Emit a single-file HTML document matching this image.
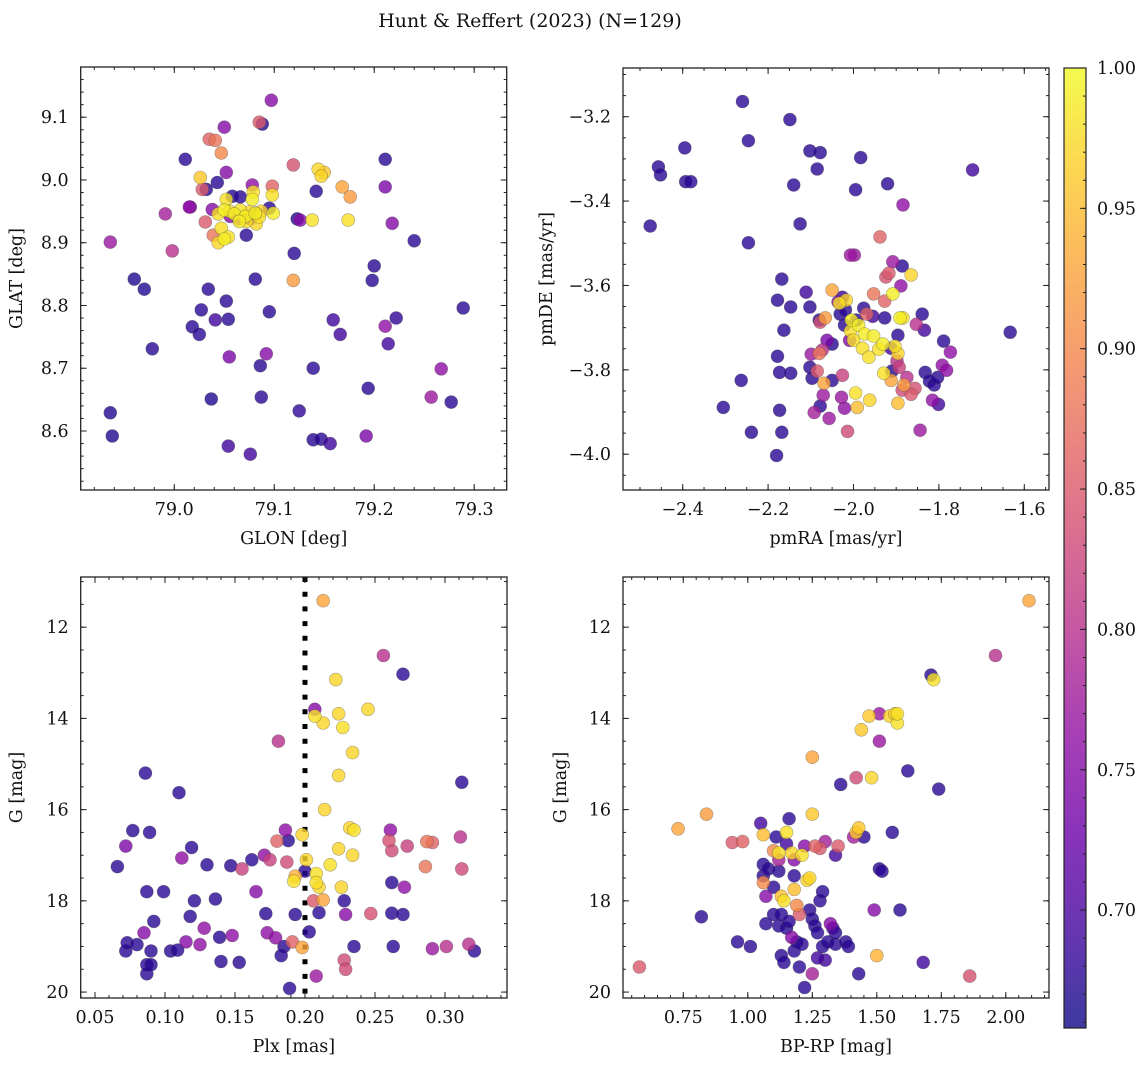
<!DOCTYPE html>
<html><head><meta charset="utf-8">
<style>
html,body{margin:0;padding:0;background:#fff;}
svg{display:block;font-family:"DejaVu Serif","Liberation Serif",serif;}
</style></head>
<body>
<svg id="fig" width="1148" height="1067" viewBox="0 0 1148 1067" xmlns="http://www.w3.org/2000/svg">
<rect width="1148" height="1067" fill="#fff"/>
<text x="530" y="27" font-size="19" text-anchor="middle" fill="#111">Hunt &amp; Reffert (2023) (N=129)</text>
<g id="layer"></g>
</svg>
<script>
// ---------- data ----------
const tlGlon=[78.936,78.938,78.960,78.970,78.978,79.011,79.018,79.025,79.027,79.034,79.037,79.041,79.052,79.054,79.055,79.054,79.081,79.095,79.092,79.086,79.087,79.076,79.097,79.088,79.085,79.120,79.125,79.139,79.139,79.147,79.156,79.159,79.166,79.142,79.192,79.194,79.198,79.200,79.211,79.211,79.211,79.214,79.218,79.222,79.240,79.257,79.267,79.277,79.289,
78.936,78.991,78.998,79.015,79.026,79.028,79.035,79.041,79.047,79.050,79.052,79.043,79.038,79.016,79.031,79.032,
79.052,79.050,79.055,79.060,79.066,79.071,79.075,79.081,79.085,79.087,79.078,79.079,79.098,79.099,79.047,79.050,79.054,79.065,79.072,79.082,79.044,79.044,79.039,
79.064,79.056,79.058,79.066,79.078,79.098,79.095,79.072,79.082,79.076,
79.119,79.119,79.126,79.123,79.138,79.144,79.150,79.147,79.168,79.176,79.174];
const tlGlat=[8.629,8.592,8.842,8.826,8.731,9.033,8.766,8.754,8.793,8.826,8.651,8.777,8.807,8.778,8.718,8.576,8.842,8.79,8.723,8.704,8.654,8.563,9.127,9.089,9.092,8.883,8.632,8.70,8.586,8.587,8.58,8.777,8.754,8.982,8.592,8.668,8.840,8.863,9.033,8.989,8.767,8.739,8.931,8.780,8.903,8.654,8.699,8.646,8.796,
8.901,8.946,8.887,8.957,9.004,8.985,9.065,9.063,9.043,9.084,9.012,8.996,8.953,8.957,8.933,8.985,
8.969,8.952,8.950,8.946,8.952,8.942,8.949,8.947,8.941,8.950,8.969,8.981,8.976,8.947,8.923,8.906,8.909,8.934,8.934,8.930,8.946,8.900,8.912,
8.938,8.942,8.974,8.973,8.992,8.990,8.955,8.912,8.947,8.938,
9.024,8.840,8.936,8.938,8.936,9.017,9.012,9.006,8.989,8.973,8.936];
const tlProb=[.67,.67,.67,.67,.675,.675,.675,.675,.675,.675,.67,.69,.675,.675,.74,.69,.675,.675,.75,.675,.675,.69,.75,.675,.85,.675,.68,.675,.675,.675,.69,.69,.69,.675,.74,.675,.675,.675,.675,.74,.76,.69,.75,.68,.675,.77,.76,.675,.675,
.77,.78,.8,.76,.96,.85,.86,.88,.9,.75,.75,.675,.75,.74,.85,.675,
.98,.99,.98,.99,.98,.99,.97,.99,.98,.97,.99,.98,.98,.99,.98,.99,.98,.99,.98,.97,.98,.97,.88,
.76,.75,.675,.675,.76,.86,.675,.675,.675,.75,
.84,.92,.75,.675,.98,.97,.96,.97,.93,.92,.98];

const trPmra=[-2.476,-2.457,-2.452,-2.395,-2.393,-2.381,-2.260,-2.246,-2.246,-2.263,-2.149,-2.140,-2.125,-2.102,-2.085,-2.078,-1.995,-1.983,-1.920,-1.721,-1.633,-1.886,-1.908,-1.998,-2.007,-1.938,-1.917,-1.889,-1.884,-1.865,-2.168,-2.178,-2.147,-2.163,-2.178,-2.173,-2.147,-2.173,-2.168,-2.180,-2.305,-2.239,
-2.111,-2.102,-2.080,-2.062,-2.050,-2.036,-2.031,-2.026,-2.021,-2.019,-2.009,-1.993,-1.976,-1.955,-1.927,-1.912,-1.896,-1.839,-1.834,-1.832,-1.822,-1.811,-1.792,-1.782,-1.801,-1.789,-1.773,-1.803,-2.092,-2.099,-2.102,-2.097,-2.050,-2.057,-2.021,-2.078,-2.071,-2.028,-1.910,-1.844,-1.815,
-2.078,-2.073,-2.085,-2.026,-2.014,-1.953,-1.927,-1.924,-1.898,-1.886,-1.893,-1.865,-1.856,-1.875,-1.853,-1.969,
-2.050,-2.066,-2.080,-2.069,-1.995,-1.991,-2.033,-2.017,-2.007,-2.005,-2.000,-1.988,-1.979,-1.974,-1.964,-1.953,-1.941,-1.931,-1.929,-1.903,-1.891,-1.884,-1.908,-1.896,-1.912,-1.896,-1.882,-1.962];
const trPmde=[-3.459,-3.319,-3.338,-3.274,-3.354,-3.354,-3.164,-3.257,-3.499,-3.825,-3.207,-3.362,-3.454,-3.281,-3.324,-3.285,-3.373,-3.297,-3.359,-3.326,-3.711,-3.554,-3.544,-3.528,-3.528,-3.485,-3.571,-3.601,-3.409,-3.575,-3.585,-3.635,-3.651,-3.706,-3.768,-3.806,-3.808,-3.896,-3.948,-4.003,-3.889,-3.948,
-3.616,-3.651,-3.682,-3.730,-3.739,-3.639,-3.668,-3.628,-3.694,-3.658,-3.730,-3.682,-3.654,-3.673,-3.677,-3.749,-3.718,-3.668,-3.706,-3.806,-3.827,-3.836,-3.789,-3.801,-3.882,-3.732,-3.758,-3.818,-3.901,-3.763,-3.794,-3.820,-3.825,-3.915,-3.891,-3.886,-3.860,-3.865,-3.803,-3.943,-3.872,
-3.687,-3.753,-3.803,-3.813,-3.946,-3.620,-3.637,-3.580,-3.779,-3.848,-3.794,-3.858,-3.844,-3.818,-3.692,-3.668,
-3.611,-3.677,-3.761,-3.832,-3.855,-3.889,-3.642,-3.635,-3.708,-3.682,-3.730,-3.694,-3.749,-3.715,-3.770,-3.720,-3.751,-3.739,-3.808,-3.744,-3.677,-3.677,-3.620,-3.761,-3.825,-3.879,-3.836,-3.872];
const trProb=[.675,.675,.675,.675,.675,.675,.675,.675,.675,.675,.675,.675,.675,.675,.675,.675,.675,.675,.675,.69,.675,.675,.77,.77,.77,.86,.85,.76,.76,.97,.675,.675,.675,.675,.675,.675,.675,.675,.675,.675,.675,.675,
.69,.675,.675,.74,.675,.75,.675,.69,.675,.675,.75,.675,.675,.69,.675,.69,.675,.675,.69,.675,.675,.675,.76,.76,.69,.675,.76,.675,.78,.77,.675,.675,.675,.77,.76,.675,.77,.77,.675,.77,.76,
.84,.8,.85,.82,.83,.88,.86,.84,.8,.83,.82,.85,.84,.8,.8,.86,
.93,.92,.88,.93,.98,.95,.98,.97,.98,.99,.98,.99,.98,.99,.98,.99,.98,.99,.98,.98,.99,.98,.99,.97,.93,.95,.92,.97];

const blPlx=[0.086,0.110,0.089,0.077,0.072,0.066,0.087,0.099,0.072,0.073,0.080,0.085,0.090,0.087,0.087,0.090,0.092,0.104,0.109,0.115,0.118,0.121,0.112,0.119,0.125,0.130,0.128,0.136,0.139,0.140,0.148,0.153,0.147,0.155,0.162,0.165,0.172,0.173,0.175,0.171,0.179,0.181,0.180,0.186,0.185,0.183,0.189,0.191,0.193,0.187,0.188,0.192,0.193,0.198,0.201,0.198,0.200,
0.213,0.207,0.213,0.207,0.208,0.208,0.210,0.213,0.214,0.206,0.210,0.203,0.208,0.218,0.224,0.222,0.224,0.227,0.224,0.234,0.232,0.235,0.234,0.245,0.226,0.228,0.229,0.228,0.229,0.235,0.247,0.256,0.261,0.260,0.262,0.262,0.262,0.263,0.270,0.273,0.271,0.270,0.286,0.287,0.291,0.291,0.301,0.311,0.312,0.312,0.317,0.321];
const blG=[15.2,15.63,16.5,16.46,16.8,17.25,17.8,17.8,19.1,18.92,18.96,18.7,19.1,19.4,19.6,19.4,18.45,19.1,19.08,18.9,18.34,18.0,17.06,16.83,18.96,17.21,18.6,17.96,18.8,19.33,18.76,19.35,17.23,17.3,17.1,17.8,18.28,18.7,17.1,17.0,18.81,14.5,16.69,16.45,19.0,19.2,19.92,18.9,18.3,17.15,16.68,17.57,17.46,16.55,17.1,19.02,17.35,
11.42,13.95,14.1,13.8,17.4,17.6,17.7,17.98,16.0,18.0,18.26,18.68,19.65,17.21,16.86,13.15,13.9,14.2,15.25,14.75,16.4,16.45,17.0,13.8,17.7,18.0,18.3,19.3,19.5,19.0,18.28,12.62,16.45,16.68,16.9,17.6,18.27,19.0,13.03,16.8,17.7,18.3,17.25,16.7,16.72,19.05,19.0,16.6,17.3,15.4,18.95,19.1];
const blProb=[.675,.675,.675,.675,.74,.675,.675,.675,.675,.675,.675,.75,.675,.675,.675,.675,.675,.675,.675,.75,.675,.675,.76,.675,.76,.675,.76,.675,.675,.675,.76,.675,.675,.82,.675,.75,.675,.76,.82,.76,.76,.8,.86,.76,.675,.675,.675,.86,.675,.83,.675,.98,.94,.97,.97,.93,.675,
.93,.98,.97,.75,.98,.98,.97,.93,.97,.85,.675,.675,.77,.98,.97,.97,.97,.98,.97,.97,.97,.98,.97,.97,.97,.675,.75,.83,.83,.675,.84,.8,.76,.84,.83,.675,.675,.675,.675,.82,.76,.675,.88,.88,.86,.77,.8,.8,.83,.675,.8,.675];

const brColor=[0.58,0.73,0.84,0.82,0.96,1.01,0.94,0.98,1.05,1.06,1.06,1.06,1.06,1.07,1.08,1.07,1.10,1.10,1.11,1.12,1.13,1.12,1.12,1.14,1.15,1.15,1.16,1.17,1.18,1.18,1.18,1.19,1.20,1.21,1.22,1.23,1.24,1.25,1.26,1.25,
1.12,1.13,1.14,1.15,1.17,1.18,1.19,1.20,1.21,1.22,1.24,1.25,1.26,1.27,1.28,1.29,1.29,1.30,1.31,1.32,1.33,1.34,1.25,1.27,1.34,1.35,1.34,1.28,1.30,1.36,
1.38,1.39,1.41,1.42,1.43,1.42,1.43,1.44,1.45,1.47,1.48,1.49,1.50,1.51,1.51,1.51,1.52,1.55,1.56,1.57,1.58,1.58,1.59,1.62,1.68,1.71,1.72,1.74,1.86,1.96,2.09,1.10,1.13,1.16];
const brG=[19.45,16.42,16.1,18.35,18.9,19.0,16.72,16.7,16.3,16.55,17.2,17.45,17.6,17.9,17.3,18.5,17.7,16.9,16.6,16.95,17.9,17.35,17.1,18.0,16.75,16.5,16.2,16.95,17.1,17.45,17.75,18.1,18.3,17.0,16.8,17.55,17.5,16.1,16.8,14.85,
18.55,19.2,19.35,18.6,18.8,19.1,18.9,19.45,18.95,19.9,18.2,18.4,18.55,18.7,18.0,17.8,19.0,19.3,18.9,18.5,18.6,18.95,19.6,19.25,18.7,16.8,17.0,16.85,16.7,15.45,
18.9,19.0,16.6,16.5,16.4,15.3,19.6,14.25,16.6,13.95,15.3,18.2,19.2,13.9,14.5,17.3,17.35,13.95,16.5,13.9,14.1,13.9,18.2,15.15,19.35,13.05,13.15,15.55,19.65,12.62,11.42,18.3,18.3,18.45];
const brProb=[.85,.93,.92,.675,.675,.675,.85,.86,.69,.95,.675,.675,.9,.75,.675,.675,.675,.9,.675,.98,.95,.675,.78,.98,.69,.98,.675,.97,.75,.675,.95,.9,.85,.98,.75,.97,.97,.96,.86,.93,
.675,.675,.675,.675,.75,.675,.675,.675,.675,.675,.675,.675,.675,.675,.675,.675,.675,.69,.675,.75,.69,.675,.78,.69,.675,.85,.69,.85,.78,.675,
.675,.675,.78,.96,.96,.83,.675,.96,.675,.96,.97,.75,.94,.77,.77,.675,.675,.97,.675,.97,.98,.98,.675,.675,.69,.675,.98,.675,.84,.8,.93,.675,.675,.675];

const cbTicks=[0.70,0.75,0.80,0.85,0.90,0.95,1.00];
const VMIN=0.658, VMAX=1.0;

// ---------- helpers ----------
const NS="http://www.w3.org/2000/svg";
const layer=document.getElementById('layer');
function mk(tag,attrs,parent){const e=document.createElementNS(NS,tag);for(const k in attrs)e.setAttribute(k,attrs[k]);(parent||layer).appendChild(e);return e;}
const PL=[[13,8,135],[65,4,157],[106,0,168],[143,13,164],[177,42,144],[204,71,120],[225,100,98],[242,132,75],[252,166,54],[252,206,37],[240,249,33]];
function plasma(t){t=Math.max(0,Math.min(1,t))*10;const i=Math.min(9,Math.floor(t)),f=t-i;const a=PL[i],b=PL[i+1];
return 'rgb('+[0,1,2].map(k=>Math.round(a[k]+(b[k]-a[k])*f)).join(',')+')';}
function cnorm(p){return (p-VMIN)/(VMAX-VMIN);}

function panel(o){
  const g=mk('g',{});
  
  
  const sx=v=>o.x0+(v-o.xr[0])/(o.xr[1]-o.xr[0])*(o.x1-o.x0);
  const sy=v=>o.inv? o.y0+(v-o.yr[0])/(o.yr[1]-o.yr[0])*(o.y1-o.y0) : o.y1-(v-o.yr[0])/(o.yr[1]-o.yr[0])*(o.y1-o.y0);
  if(o.vline!==undefined){
    const l=mk('line',{x1:sx(o.vline),x2:sx(o.vline),y1:o.y0,y2:o.y1,stroke:'#000','stroke-width':5,'stroke-dasharray':'5,9.7'},g);
    
    
  }
  const idx=o.xs.map((_,i)=>i).sort((a,b)=>o.ps[a]-o.ps[b]);
  const pg=mk('g',{},g);
  
  
  idx.forEach(i=>{
    const c=mk('circle',{cx:sx(o.xs[i]).toFixed(1),cy:sy(o.ys[i]).toFixed(1),r:6.5,fill:plasma(cnorm(o.ps[i])),'fill-opacity':0.8,stroke:'#444','stroke-opacity':0.45,'stroke-width':0.6},pg);
    
    
  });
  const fr=mk('rect',{x:o.x0,y:o.y0,width:o.x1-o.x0,height:o.y1-o.y0,fill:'none',stroke:'#222','stroke-width':1.3},g);
  
  
  const eps=1e-9;
  function ticksX(step,len,labels){
    const s=Math.ceil((o.xr[0]-eps)/step);
    for(let k=s;k*step<=o.xr[1]+eps;k++){const v=k*step,x=sx(v);
      mk('line',{x1:x,x2:x,y1:o.y1,y2:o.y1-len,stroke:'#222','stroke-width':1},g);
      mk('line',{x1:x,x2:x,y1:o.y0,y2:o.y0+len,stroke:'#222','stroke-width':1},g);
      if(labels){const t=mk('text',{x:x,y:o.y1+25,'font-size':17.5,'text-anchor':'middle',fill:'#111'},g);t.textContent=o.xfmt(v);
        
        }
    }}
  function ticksY(step,len,labels){
    const lo=Math.min(o.yr[0],o.yr[1]),hi=Math.max(o.yr[0],o.yr[1]);
    const s=Math.ceil((lo-eps)/step);
    for(let k=s;k*step<=hi+eps;k++){const v=k*step,y=sy(v);
      mk('line',{x1:o.x0,x2:o.x0+len,y1:y,y2:y,stroke:'#222','stroke-width':1},g);
      mk('line',{x1:o.x1,x2:o.x1-len,y1:y,y2:y,stroke:'#222','stroke-width':1},g);
      if(labels){const t=mk('text',{x:o.x0-12,y:y+6,'font-size':17.5,'text-anchor':'end',fill:'#111'},g);t.textContent=o.yfmt(v);
        
        }
    }}
  ticksX(o.xMin,3,false);ticksX(o.xMaj,6,true);
  ticksY(o.yMin,3,false);ticksY(o.yMaj,6,true);
  const xl=mk('text',{x:(o.x0+o.x1)/2,y:o.y1+54,'font-size':17.5,'text-anchor':'middle',fill:'#111'},g);xl.textContent=o.xlabel;
  
  
  const cy=(o.y0+o.y1)/2;
  const yl=mk('text',{x:o.ylx,y:cy,'font-size':17.5,'text-anchor':'middle',fill:'#111',transform:'rotate(-90 '+o.ylx+' '+cy+')'},g);yl.textContent=o.ylabel;
  
  
}
const neg=s=>s.replace('-','\u2212');

panel({name:'glon-glat-panel',x0:80.7,x1:506.7,y0:67,y1:490,xr:[78.9064,79.3325],yr:[8.506,9.180],
  xs:tlGlon,ys:tlGlat,ps:tlProb,xMaj:0.1,xMin:0.02,yMaj:0.1,yMin:0.02,
  xfmt:v=>v.toFixed(1),yfmt:v=>v.toFixed(1),xlabel:'GLON [deg]',ylabel:'GLAT [deg]',ylx:22});
panel({name:'proper-motion-panel',x0:623,x1:1049,y0:68,y1:490,xr:[-2.5398,-1.5421],yr:[-4.0848,-3.0846],
  xs:trPmra,ys:trPmde,ps:trProb,xMaj:0.2,xMin:0.05,yMaj:0.2,yMin:0.05,
  xfmt:v=>neg(v.toFixed(1)),yfmt:v=>neg(v.toFixed(1)),xlabel:'pmRA [mas/yr]',ylabel:'pmDE [mas/yr]',ylx:552});
panel({name:'parallax-magnitude-panel',x0:80.7,x1:507,y0:577,y1:998,xr:[0.0398,0.3443],yr:[10.90,20.13],inv:true,
  xs:blPlx,ys:blG,ps:blProb,xMaj:0.05,xMin:0.01,yMaj:2,yMin:0.5,vline:0.2,
  xfmt:v=>v.toFixed(2),yfmt:v=>v.toFixed(0),xlabel:'Plx [mas]',ylabel:'G [mag]',ylx:22});
panel({name:'color-magnitude-panel',x0:623,x1:1049,y0:577,y1:998,xr:[0.5163,2.1674],yr:[10.90,20.13],inv:true,
  xs:brColor,ys:brG,ps:brProb,xMaj:0.25,xMin:0.05,yMaj:2,yMin:0.5,
  xfmt:v=>v.toFixed(2),yfmt:v=>v.toFixed(0),xlabel:'BP-RP [mag]',ylabel:'G [mag]',ylx:566});

// ---------- colorbar ----------
(function(){
  const x0=1064,x1=1086,y0=68,y1=1028;
  const g=mk('g',{});
  
  
  const defs=mk('defs',{},g);
  const lg=mk('linearGradient',{id:'cbg',x1:0,y1:1,x2:0,y2:0},defs);
  for(let i=0;i<=20;i++){mk('stop',{offset:(i/20),'stop-color':plasma(i/20),'stop-opacity':0.8},lg);}
  const r=mk('rect',{x:x0,y:y0,width:x1-x0,height:y1-y0,fill:'url(#cbg)',stroke:'#222','stroke-width':1.2},g);
  
  
  const sy=v=>y1-(v-VMIN)/(VMAX-VMIN)*(y1-y0);
  for(let v=0.66;v<=1.0001;v+=0.01){const y=sy(v);mk('line',{x1:x1,x2:x1-3,y1:y,y2:y,stroke:'#222','stroke-width':1},g);}
  cbTicks.forEach(v=>{const y=sy(v);
    mk('line',{x1:x1,x2:x1-6,y1:y,y2:y,stroke:'#222','stroke-width':1},g);
    const t=mk('text',{x:1097,y:y+6,'font-size':17.5,fill:'#111'},g);t.textContent=v.toFixed(2);
    
    
  });
})();
</script>
</body></html>
